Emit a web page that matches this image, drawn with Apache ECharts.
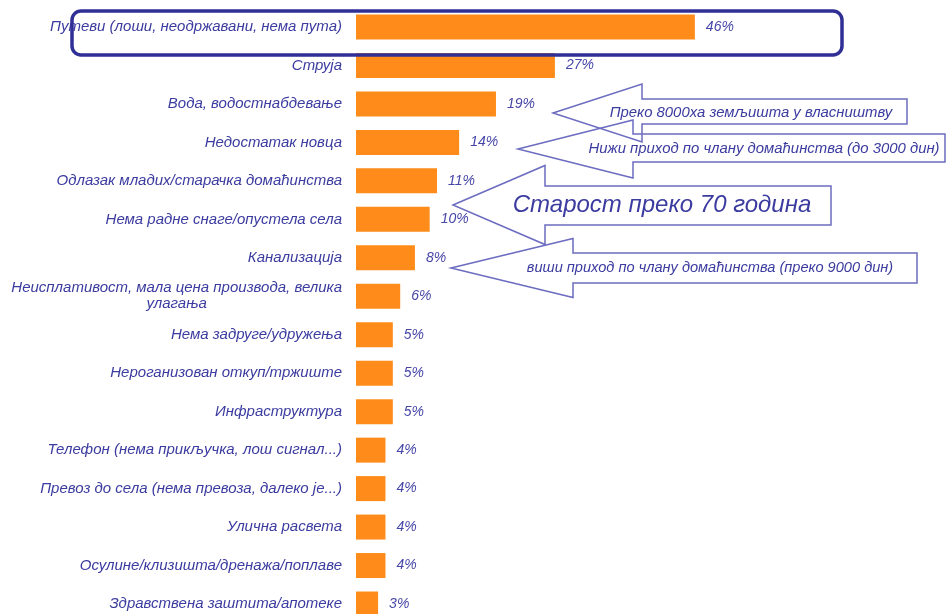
<!DOCTYPE html>
<html>
<head>
<meta charset="utf-8">
<script src="https://cdn.jsdelivr.net/npm/echarts@6/dist/echarts.min.js"></script>
<style>
  html, body { margin: 0; padding: 0; background: #fff; }
  #chart { width: 947px; height: 614px; }
</style>
</head>
<body>
<div id="chart"></div>
<script>
// Problems named by village households, share of answers (%)
const categories = [
  'Путеви (лоши, неодржавани, нема пута)',
  'Струја',
  'Вода, водостнабдевање',
  'Недостатак новца',
  'Одлазак младих/старачка домаћинства',
  'Нема радне снаге/опустела села',
  'Канализација',
  'Неисплативост, мала цена производа, велика\nулагања',
  'Нема задруге/удружења',
  'Нероганизован откуп/тржиште',
  'Инфраструктура',
  'Телефон (нема прикључка, лош сигнал...)',
  'Превоз до села (нема превоза, далеко је...)',
  'Улична расвета',
  'Осулине/клизишта/дренажа/поплаве',
  'Здравствена заштита/апотеке'
];
const shares = [46, 27, 19, 14, 11, 10, 8, 6, 5, 5, 5, 4, 4, 4, 4, 3];

// Callout notes pointing at the bars
const callouts = [
  'Преко 8000ха земљишта у власништву',
  'Нижи приход по члану домаћинства (до 3000 дин)',
  'Старост преко 70 година',
  'виши приход по члану домаћинства (преко 9000 дин)'
];

const FONT = '"Liberation Sans", Arial, sans-serif';
const TEXT = '#3b3ba0';
const ARROW = '#6c6cc0';

// Left-pointing block arrow: tip, head base x, head half-height, body edges, right end
function arrowPoints(tipX, cy, baseX, headHalf, bodyTop, bodyBottom, rightX) {
  return [
    [tipX, cy],
    [baseX, cy - headHalf],
    [baseX, bodyTop],
    [rightX, bodyTop],
    [rightX, bodyBottom],
    [baseX, bodyBottom],
    [baseX, cy + headHalf]
  ];
}

const arrows = [
  { pts: arrowPoints(553, 113, 642, 29, 99, 124, 907), tx: 751, ty: 113, size: 14.9 },
  { pts: arrowPoints(518, 149, 633, 29, 134, 162, 945), tx: 764, ty: 149, size: 14.9 },
  { pts: arrowPoints(453, 205, 545, 39.5, 186, 225, 831), tx: 662, ty: 205, size: 24 },
  { pts: arrowPoints(451, 268, 573, 29.5, 253, 283, 917), tx: 710, ty: 268, size: 14.6 }
];

const graphics = [];
arrows.forEach((a, i) => {
  graphics.push({
    type: 'polygon',
    z: 10,
    shape: { points: a.pts },
    style: { fill: null, stroke: ARROW, lineWidth: 1.5 }
  });
  graphics.push({
    type: 'text',
    z: 11,
    x: a.tx,
    y: a.ty,
    style: {
      text: callouts[i],
      font: 'italic ' + a.size + 'px ' + FONT,
      fill: TEXT,
      align: 'center',
      verticalAlign: 'middle'
    }
  });
});

// Frame around the top-ranked problem
graphics.push({
  type: 'rect',
  z: 12,
  shape: { x: 72, y: 11, width: 770, height: 44, r: 9 },
  style: { fill: null, stroke: '#2f2f96', lineWidth: 3.5 }
});

const chart = echarts.init(document.getElementById('chart'), null, { renderer: 'canvas' });
chart.setOption({
  animation: false,
  backgroundColor: '#ffffff',
  // category centres sit on the grid edges (boundaryGap off): first row at y=27, last at y=604
  grid: { left: 356, top: 27, width: 442, height: 577, containLabel: false },
  xAxis: {
    type: 'value',
    min: 0,
    max: 60,
    show: false
  },
  yAxis: {
    type: 'category',
    data: categories,
    inverse: true,
    boundaryGap: false,
    axisLine: { show: false },
    axisTick: { show: false },
    splitLine: { show: false },
    axisLabel: {
      margin: 14,
      fontFamily: FONT,
      fontStyle: 'italic',
      fontSize: 15,
      color: TEXT,
      lineHeight: 16,
      formatter: (v) => v.split('\n').map(s => '{c|' + s + '}').join('\n'),
      rich: {
        c: { align: 'center', fontFamily: FONT, fontStyle: 'italic', fontSize: 15, color: TEXT, lineHeight: 16 }
      }
    }
  },
  series: [{
    type: 'bar',
    data: shares,
    barWidth: 25,
    itemStyle: { color: '#ff8c1a' },
    label: {
      show: true,
      position: 'right',
      distance: 11,
      formatter: '{c}%',
      fontFamily: FONT,
      fontStyle: 'italic',
      fontSize: 14,
      color: '#4646a8'
    }
  }],
  graphic: graphics
});
</script>
</body>
</html>
